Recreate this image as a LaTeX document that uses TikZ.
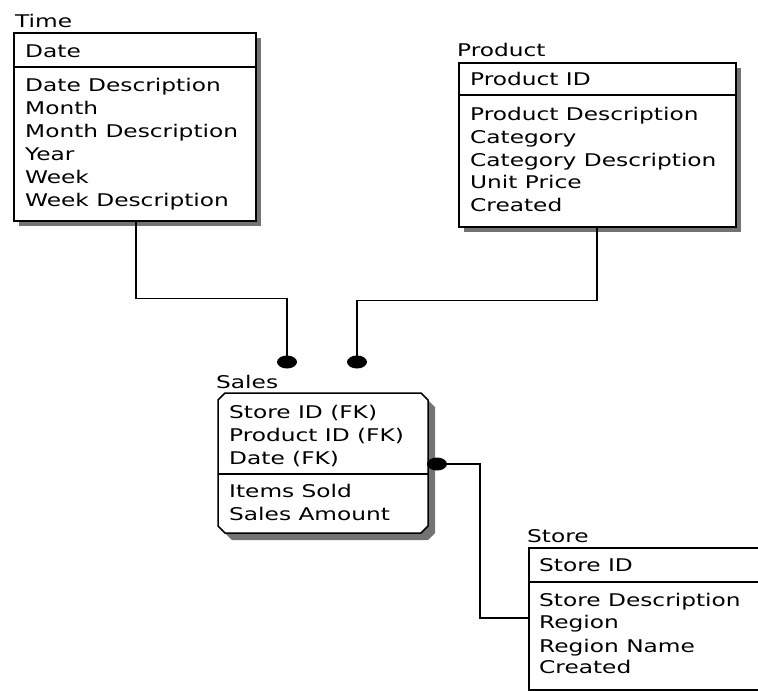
\documentclass[tikz,border=0pt]{standalone}
\usepackage{fontspec}
\usetikzlibrary{calc,shapes.geometric}
\newfontfamily\erfont[FakeStretch=1.33]{DejaVu Sans}
\begin{document}
\begin{tikzpicture}[x=1pt,y=-1pt]
\tikzset{
  ent/.style={draw, line width=1.5pt, fill=white, inner sep=0, anchor=north west},
  shad/.style={fill=black!55, draw=none},
  fld/.style={anchor=base west, inner sep=0, font=\erfont\fontsize{17.5}{20}\selectfont},
  conn/.style={line width=1.5pt},
  fkdot/.style={ellipse, fill=black, minimum width=20pt, minimum height=13pt, inner sep=0},
  sepline/.style={line width=1.5pt}
}
\useasboundingbox (0,0) rectangle (758,691);
\clip (0,0) rectangle (758,691);
\fill[white] (0,0) rectangle (758,691);

% shadows
\fill[shad] (19,38) rectangle (261,226);
\fill[shad] (464,68) rectangle (741,232);
\fill[shad] (534,553) rectangle (776,695);
\begin{scope}[shift={(7,7)}]
\fill[shad] (225,393) -- (421,393) -- (428,400) -- (428,526) -- (421,533) -- (225,533) -- (218,526) -- (218,400) -- cycle;
\end{scope}

% Time
\node[ent, minimum width=242pt, minimum height=188pt] (time) at (13,32) {};
\draw[sepline] ($(time.north west)+(0,35)$) -- ($(time.north east)+(0,35)$);
\node[fld] (timelbl) at (15,27) {Time};
\node[fld] (t0) at (25,57) {Date};
\node[fld] (t1) at (25,91) {Date Description};
\node[fld] (t2) at (25,114) {Month};
\node[fld] (t3) at (25,137) {Month Description};
\node[fld] (t4) at (25,160) {Year};
\node[fld] (t5) at (25,183) {Week};
\node[fld] (t6) at (25,206) {Week Description};

% Product
\node[ent, minimum width=277pt, minimum height=164pt] (product) at (458,62) {};
\draw[sepline] ($(product.north west)+(0,33)$) -- ($(product.north east)+(0,33)$);
\node[fld] (prodlbl) at (457,56) {Product};
\node[fld] (p0) at (470,85) {Product ID};
\node[fld] (p1) at (470,120) {Product Description};
\node[fld] (p2) at (470,143) {Category};
\node[fld] (p3) at (470,166) {Category Description};
\node[fld] (p4) at (470,188) {Unit Price};
\node[fld] (p5) at (470,211) {Created};

% Sales
\node[inner sep=0, minimum width=210pt, minimum height=140pt, anchor=north west] (sales) at (218,393) {};
\draw[line width=1.5pt, fill=white] (225,393) -- (421,393) -- (428,400) -- (428,526) -- (421,533) -- (225,533) -- (218,526) -- (218,400) -- cycle;
\draw[sepline] ($(sales.north west)+(0,81)$) -- ($(sales.north east)+(0,81)$);
\node[fld] (saleslbl) at (216,388) {Sales};
\node[fld] (s0) at (229,418) {Store ID (FK)};
\node[fld] (s1) at (229,441) {Product ID (FK)};
\node[fld] (s2) at (229,464) {Date (FK)};
\node[fld] (s3) at (229,497) {Items Sold};
\node[fld] (s4) at (229,520) {Sales Amount};

% Store
\node[ent, minimum width=242pt, minimum height=142pt] (store) at (528,547) {};
\draw[sepline] ($(store.north west)+(0,35)$) -- ($(store.north east)+(0,35)$);
\node[fld] (storelbl) at (527,542) {Store};
\node[fld] (r0) at (539,571) {Store ID};
\node[fld] (r1) at (539,606) {Store Description};
\node[fld] (r2) at (539,628) {Region};
\node[fld] (r3) at (539,652) {Region Name};
\node[fld] (r4) at (539,673) {Created};

% relationship dots
\node[fkdot] (d1) at (287,362) {};
\node[fkdot] (d2) at (357,362) {};
\node[fkdot] (d3) at (437,464) {};

% connectors
\draw[conn] ($(time.south west)+(123,0)$) -- ++(0,77) -| (d1.center);
\draw[conn] ($(product.south west)+(139,0)$) -- ++(0,73) -| (d2.center);
\draw[conn] (d3.center) -- ++(43,0) |- ($(store.north west)+(0,71)$);
\end{tikzpicture}
\end{document}
